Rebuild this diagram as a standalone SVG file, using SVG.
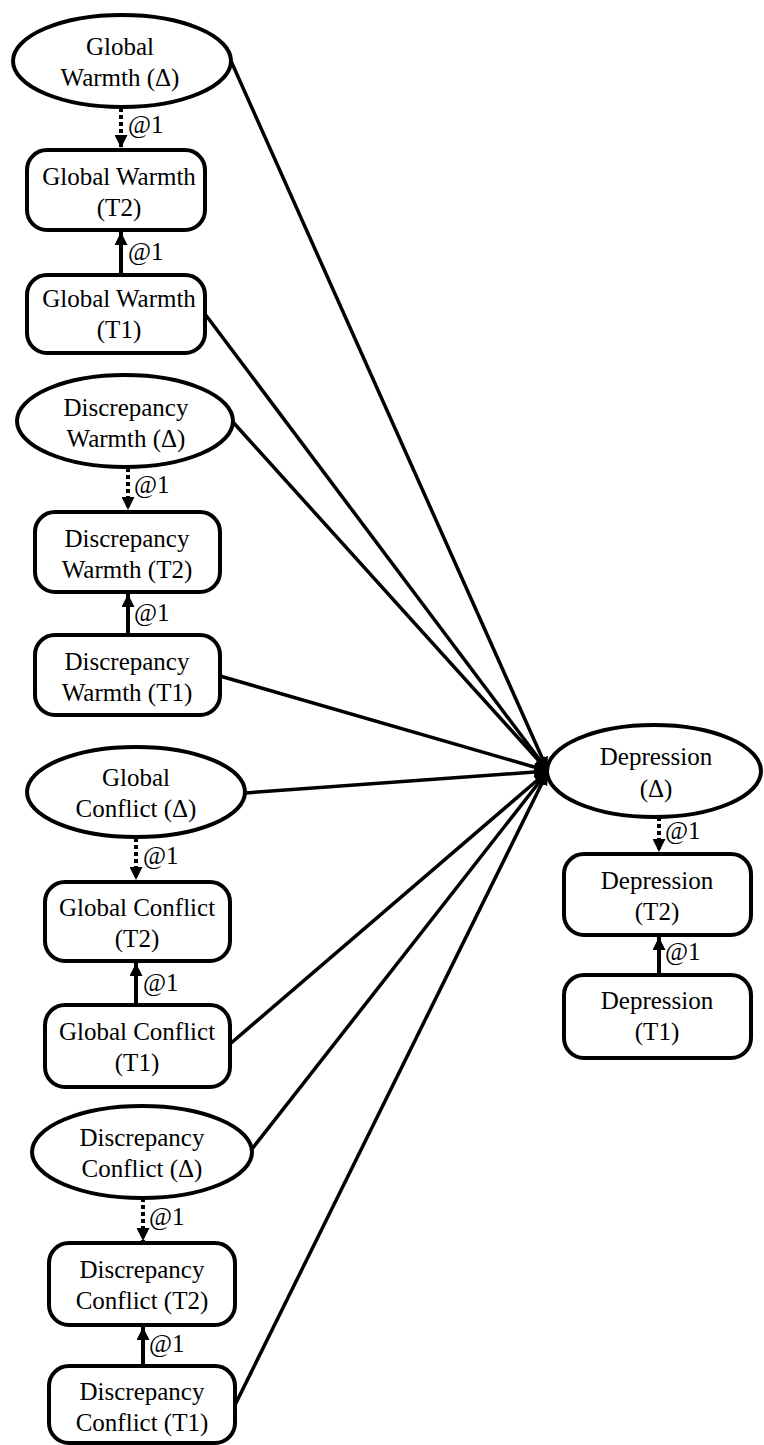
<svg xmlns="http://www.w3.org/2000/svg" width="764" height="1445" viewBox="0 0 764 1445">
<style>
.n{fill:#fff;stroke:#000;stroke-width:4}
.t{font-family:'Liberation Serif','DejaVu Serif',serif;font-size:25px;fill:#000;text-anchor:middle}
.l{font-family:'Liberation Serif','DejaVu Serif',serif;font-size:25px;fill:#000}
.c{stroke:#000;stroke-width:3.5;fill:none}
.d{stroke:#000;stroke-width:4;fill:none;stroke-dasharray:4 3}
.s{stroke:#000;stroke-width:4;fill:none}
</style>
<defs>
<marker id="ah" markerUnits="userSpaceOnUse" markerWidth="14" markerHeight="12" refX="14" refY="6" orient="auto">
<path d="M0,0 L14,6 L0,12 z" fill="#000"/>
</marker>
<marker id="av" markerUnits="userSpaceOnUse" markerWidth="13" markerHeight="13" refX="13" refY="6.5" orient="auto">
<path d="M0,0 L13,6.5 L0,13 z" fill="#000"/>
</marker>
</defs>
<g id="connectors">
<line class="c" x1="231" y1="61" x2="548" y2="771" marker-end="url(#ah)"/>
<line class="c" x1="205" y1="314" x2="548" y2="771" marker-end="url(#ah)"/>
<line class="c" x1="232" y1="421" x2="548" y2="771" marker-end="url(#ah)"/>
<line class="c" x1="220" y1="676" x2="548" y2="771" marker-end="url(#ah)"/>
<line class="c" x1="245" y1="793" x2="548" y2="771" marker-end="url(#ah)"/>
<line class="c" x1="230" y1="1044" x2="548" y2="771" marker-end="url(#ah)"/>
<line class="c" x1="252" y1="1149" x2="548" y2="771" marker-end="url(#ah)"/>
<line class="c" x1="235" y1="1405" x2="548" y2="771" marker-end="url(#ah)"/>
<line class="d" x1="121" y1="108" x2="121" y2="148" marker-end="url(#av)"/>
<line class="s" x1="121" y1="275" x2="121" y2="232" marker-end="url(#av)"/>
<line class="d" x1="128" y1="468" x2="128" y2="510" marker-end="url(#av)"/>
<line class="s" x1="128" y1="635" x2="128" y2="594" marker-end="url(#av)"/>
<line class="d" x1="136" y1="838" x2="136" y2="880" marker-end="url(#av)"/>
<line class="s" x1="136" y1="1005" x2="136" y2="963" marker-end="url(#av)"/>
<line class="d" x1="143" y1="1198" x2="143" y2="1241" marker-end="url(#av)"/>
<line class="s" x1="143" y1="1366" x2="143" y2="1327" marker-end="url(#av)"/>
<line class="d" x1="659" y1="817" x2="659" y2="852" marker-end="url(#av)"/>
<line class="s" x1="659" y1="975" x2="659" y2="937" marker-end="url(#av)"/>
<text class="l" x="128" y="133">@1</text>
<text class="l" x="128" y="260">@1</text>
<text class="l" x="134" y="493">@1</text>
<text class="l" x="134" y="621">@1</text>
<text class="l" x="143" y="864">@1</text>
<text class="l" x="143" y="991">@1</text>
<text class="l" x="149" y="1225">@1</text>
<text class="l" x="149" y="1352">@1</text>
<text class="l" x="665" y="839">@1</text>
<text class="l" x="665" y="960">@1</text>
</g>
<g id="gw_d"><ellipse class="n" cx="122" cy="61" rx="109" ry="46"/><text class="t" x="120" y="55">Global</text><text class="t" x="120" y="86">Warmth (Δ)</text></g>
<g id="gw_t2"><rect class="n" x="27" y="150" width="178" height="80" rx="20"/><text class="t" x="119" y="185">Global Warmth</text><text class="t" x="119" y="216">(T2)</text></g>
<g id="gw_t1"><rect class="n" x="27" y="275" width="178" height="78" rx="20"/><text class="t" x="119" y="307">Global Warmth</text><text class="t" x="119" y="338">(T1)</text></g>
<g id="dw_d"><ellipse class="n" cx="125" cy="421" rx="108" ry="46"/><text class="t" x="126" y="416">Discrepancy</text><text class="t" x="126" y="447">Warmth (Δ)</text></g>
<g id="dw_t2"><rect class="n" x="35" y="512" width="185" height="80" rx="20"/><text class="t" x="127" y="547">Discrepancy</text><text class="t" x="127" y="578">Warmth (T2)</text></g>
<g id="dw_t1"><rect class="n" x="35" y="635" width="185" height="80" rx="20"/><text class="t" x="127" y="670">Discrepancy</text><text class="t" x="127" y="701">Warmth (T1)</text></g>
<g id="gc_d"><ellipse class="n" cx="136" cy="792" rx="109" ry="45"/><text class="t" x="136" y="786">Global</text><text class="t" x="136" y="817">Conflict (Δ)</text></g>
<g id="gc_t2"><rect class="n" x="45" y="882" width="185" height="79" rx="20"/><text class="t" x="137" y="916">Global Conflict</text><text class="t" x="137" y="947">(T2)</text></g>
<g id="gc_t1"><rect class="n" x="45" y="1005" width="185" height="82" rx="20"/><text class="t" x="137" y="1040">Global Conflict</text><text class="t" x="137" y="1071">(T1)</text></g>
<g id="dc_d"><ellipse class="n" cx="142" cy="1152" rx="110" ry="46"/><text class="t" x="142" y="1146">Discrepancy</text><text class="t" x="142" y="1177">Conflict (Δ)</text></g>
<g id="dc_t2"><rect class="n" x="49" y="1243" width="186" height="82" rx="20"/><text class="t" x="142" y="1278">Discrepancy</text><text class="t" x="142" y="1309">Conflict (T2)</text></g>
<g id="dc_t1"><rect class="n" x="49" y="1366" width="186" height="77" rx="20"/><text class="t" x="142" y="1400">Discrepancy</text><text class="t" x="142" y="1431">Conflict (T1)</text></g>
<g id="dep_d"><ellipse class="n" cx="654" cy="771" rx="107" ry="46"/><text class="t" x="656" y="765">Depression</text><text class="t" x="656" y="797">(Δ)</text></g>
<g id="dep_t2"><rect class="n" x="564" y="854" width="187" height="81" rx="20"/><text class="t" x="657" y="889">Depression</text><text class="t" x="657" y="920">(T2)</text></g>
<g id="dep_t1"><rect class="n" x="564" y="975" width="187" height="83" rx="20"/><text class="t" x="657" y="1009">Depression</text><text class="t" x="657" y="1040">(T1)</text></g>
</svg>
